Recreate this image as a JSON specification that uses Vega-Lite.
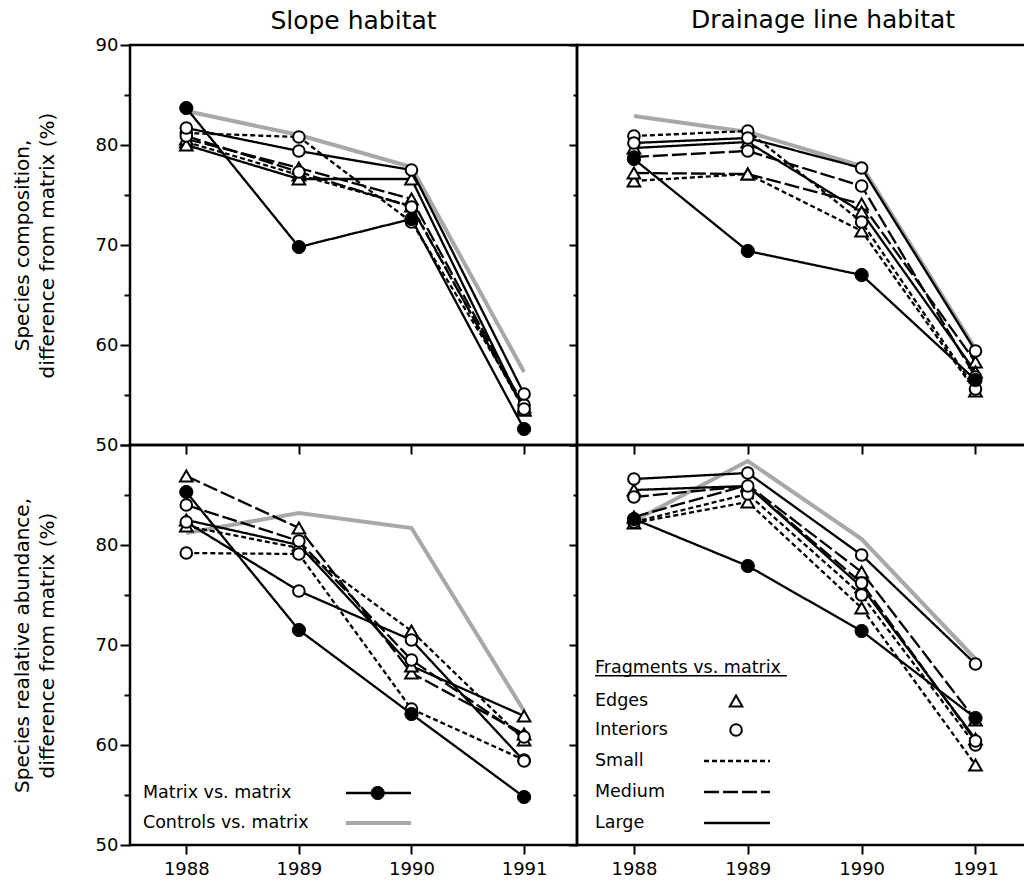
{
 "$schema": "https://vega.github.io/schema/vega-lite/v6.json",
 "padding": {"left": 10, "top": 6, "right": 0, "bottom": 0},
 "background": "white",
 "config": {
  "view": {"stroke": "black", "strokeWidth": 2.5},
  "axis": {"grid": false, "domain": false, "labelFont": "DejaVu Sans", "labelFontSize": 18, "labelColor": "black", "tickColor": "black", "tickWidth": 2, "titleFont": "DejaVu Sans", "titleFontSize": 20, "titleFontWeight": "normal", "titleColor": "black", "titleLineHeight": 25},
  "title": {"font": "DejaVu Sans", "fontSize": 25, "fontWeight": "normal", "color": "black", "frame": "group", "offset": 2}
 },
 "datasets": {
  "main": [
   {"measure":"composition","habitat":"Slope","series":"Matrix vs. matrix","type":"Matrix","size":"None","year":1988,"value":83.7},
   {"measure":"composition","habitat":"Slope","series":"Matrix vs. matrix","type":"Matrix","size":"None","year":1989,"value":69.8},
   {"measure":"composition","habitat":"Slope","series":"Matrix vs. matrix","type":"Matrix","size":"None","year":1990,"value":72.6},
   {"measure":"composition","habitat":"Slope","series":"Matrix vs. matrix","type":"Matrix","size":"None","year":1991,"value":51.6},
   {"measure":"composition","habitat":"Slope","series":"Controls vs. matrix","type":"Controls","size":"None","year":1988,"value":83.4},
   {"measure":"composition","habitat":"Slope","series":"Controls vs. matrix","type":"Controls","size":"None","year":1989,"value":81.0},
   {"measure":"composition","habitat":"Slope","series":"Controls vs. matrix","type":"Controls","size":"None","year":1990,"value":77.8},
   {"measure":"composition","habitat":"Slope","series":"Controls vs. matrix","type":"Controls","size":"None","year":1991,"value":57.3},
   {"measure":"composition","habitat":"Slope","series":"Edges Small","type":"Edges","size":"Small","year":1988,"value":80.3},
   {"measure":"composition","habitat":"Slope","series":"Edges Small","type":"Edges","size":"Small","year":1989,"value":77.0},
   {"measure":"composition","habitat":"Slope","series":"Edges Small","type":"Edges","size":"Small","year":1990,"value":73.9},
   {"measure":"composition","habitat":"Slope","series":"Edges Small","type":"Edges","size":"Small","year":1991,"value":53.5},
   {"measure":"composition","habitat":"Slope","series":"Edges Medium","type":"Edges","size":"Medium","year":1988,"value":80.6},
   {"measure":"composition","habitat":"Slope","series":"Edges Medium","type":"Edges","size":"Medium","year":1989,"value":77.7},
   {"measure":"composition","habitat":"Slope","series":"Edges Medium","type":"Edges","size":"Medium","year":1990,"value":74.6},
   {"measure":"composition","habitat":"Slope","series":"Edges Medium","type":"Edges","size":"Medium","year":1991,"value":53.8},
   {"measure":"composition","habitat":"Slope","series":"Edges Large","type":"Edges","size":"Large","year":1988,"value":80.0},
   {"measure":"composition","habitat":"Slope","series":"Edges Large","type":"Edges","size":"Large","year":1989,"value":76.6},
   {"measure":"composition","habitat":"Slope","series":"Edges Large","type":"Edges","size":"Large","year":1990,"value":76.6},
   {"measure":"composition","habitat":"Slope","series":"Edges Large","type":"Edges","size":"Large","year":1991,"value":53.5},
   {"measure":"composition","habitat":"Slope","series":"Interiors Small","type":"Interiors","size":"Small","year":1988,"value":81.2},
   {"measure":"composition","habitat":"Slope","series":"Interiors Small","type":"Interiors","size":"Small","year":1989,"value":80.8},
   {"measure":"composition","habitat":"Slope","series":"Interiors Small","type":"Interiors","size":"Small","year":1990,"value":72.3},
   {"measure":"composition","habitat":"Slope","series":"Interiors Small","type":"Interiors","size":"Small","year":1991,"value":54.0},
   {"measure":"composition","habitat":"Slope","series":"Interiors Medium","type":"Interiors","size":"Medium","year":1988,"value":80.9},
   {"measure":"composition","habitat":"Slope","series":"Interiors Medium","type":"Interiors","size":"Medium","year":1989,"value":77.3},
   {"measure":"composition","habitat":"Slope","series":"Interiors Medium","type":"Interiors","size":"Medium","year":1990,"value":73.8},
   {"measure":"composition","habitat":"Slope","series":"Interiors Medium","type":"Interiors","size":"Medium","year":1991,"value":53.6},
   {"measure":"composition","habitat":"Slope","series":"Interiors Large","type":"Interiors","size":"Large","year":1988,"value":81.7},
   {"measure":"composition","habitat":"Slope","series":"Interiors Large","type":"Interiors","size":"Large","year":1989,"value":79.4},
   {"measure":"composition","habitat":"Slope","series":"Interiors Large","type":"Interiors","size":"Large","year":1990,"value":77.5},
   {"measure":"composition","habitat":"Slope","series":"Interiors Large","type":"Interiors","size":"Large","year":1991,"value":55.1},

   {"measure":"composition","habitat":"Drainage line","series":"Matrix vs. matrix","type":"Matrix","size":"None","year":1988,"value":78.6},
   {"measure":"composition","habitat":"Drainage line","series":"Matrix vs. matrix","type":"Matrix","size":"None","year":1989,"value":69.4},
   {"measure":"composition","habitat":"Drainage line","series":"Matrix vs. matrix","type":"Matrix","size":"None","year":1990,"value":67.0},
   {"measure":"composition","habitat":"Drainage line","series":"Matrix vs. matrix","type":"Matrix","size":"None","year":1991,"value":56.5},
   {"measure":"composition","habitat":"Drainage line","series":"Controls vs. matrix","type":"Controls","size":"None","year":1988,"value":82.9},
   {"measure":"composition","habitat":"Drainage line","series":"Controls vs. matrix","type":"Controls","size":"None","year":1989,"value":81.3},
   {"measure":"composition","habitat":"Drainage line","series":"Controls vs. matrix","type":"Controls","size":"None","year":1990,"value":77.9},
   {"measure":"composition","habitat":"Drainage line","series":"Controls vs. matrix","type":"Controls","size":"None","year":1991,"value":59.6},
   {"measure":"composition","habitat":"Drainage line","series":"Edges Small","type":"Edges","size":"Small","year":1988,"value":76.4},
   {"measure":"composition","habitat":"Drainage line","series":"Edges Small","type":"Edges","size":"Small","year":1989,"value":77.1},
   {"measure":"composition","habitat":"Drainage line","series":"Edges Small","type":"Edges","size":"Small","year":1990,"value":71.4},
   {"measure":"composition","habitat":"Drainage line","series":"Edges Small","type":"Edges","size":"Small","year":1991,"value":55.4},
   {"measure":"composition","habitat":"Drainage line","series":"Edges Medium","type":"Edges","size":"Medium","year":1988,"value":77.2},
   {"measure":"composition","habitat":"Drainage line","series":"Edges Medium","type":"Edges","size":"Medium","year":1989,"value":77.1},
   {"measure":"composition","habitat":"Drainage line","series":"Edges Medium","type":"Edges","size":"Medium","year":1990,"value":74.1},
   {"measure":"composition","habitat":"Drainage line","series":"Edges Medium","type":"Edges","size":"Medium","year":1991,"value":58.3},
   {"measure":"composition","habitat":"Drainage line","series":"Edges Large","type":"Edges","size":"Large","year":1988,"value":79.7},
   {"measure":"composition","habitat":"Drainage line","series":"Edges Large","type":"Edges","size":"Large","year":1989,"value":80.3},
   {"measure":"composition","habitat":"Drainage line","series":"Edges Large","type":"Edges","size":"Large","year":1990,"value":73.3},
   {"measure":"composition","habitat":"Drainage line","series":"Edges Large","type":"Edges","size":"Large","year":1991,"value":57.3},
   {"measure":"composition","habitat":"Drainage line","series":"Interiors Small","type":"Interiors","size":"Small","year":1988,"value":80.9},
   {"measure":"composition","habitat":"Drainage line","series":"Interiors Small","type":"Interiors","size":"Small","year":1989,"value":81.4},
   {"measure":"composition","habitat":"Drainage line","series":"Interiors Small","type":"Interiors","size":"Small","year":1990,"value":72.3},
   {"measure":"composition","habitat":"Drainage line","series":"Interiors Small","type":"Interiors","size":"Small","year":1991,"value":55.6},
   {"measure":"composition","habitat":"Drainage line","series":"Interiors Medium","type":"Interiors","size":"Medium","year":1988,"value":78.8},
   {"measure":"composition","habitat":"Drainage line","series":"Interiors Medium","type":"Interiors","size":"Medium","year":1989,"value":79.4},
   {"measure":"composition","habitat":"Drainage line","series":"Interiors Medium","type":"Interiors","size":"Medium","year":1990,"value":75.9},
   {"measure":"composition","habitat":"Drainage line","series":"Interiors Medium","type":"Interiors","size":"Medium","year":1991,"value":56.8},
   {"measure":"composition","habitat":"Drainage line","series":"Interiors Large","type":"Interiors","size":"Large","year":1988,"value":80.2},
   {"measure":"composition","habitat":"Drainage line","series":"Interiors Large","type":"Interiors","size":"Large","year":1989,"value":80.7},
   {"measure":"composition","habitat":"Drainage line","series":"Interiors Large","type":"Interiors","size":"Large","year":1990,"value":77.7},
   {"measure":"composition","habitat":"Drainage line","series":"Interiors Large","type":"Interiors","size":"Large","year":1991,"value":59.4},

   {"measure":"abundance","habitat":"Slope","series":"Matrix vs. matrix","type":"Matrix","size":"None","year":1988,"value":85.3},
   {"measure":"abundance","habitat":"Slope","series":"Matrix vs. matrix","type":"Matrix","size":"None","year":1989,"value":71.5},
   {"measure":"abundance","habitat":"Slope","series":"Matrix vs. matrix","type":"Matrix","size":"None","year":1990,"value":63.1},
   {"measure":"abundance","habitat":"Slope","series":"Matrix vs. matrix","type":"Matrix","size":"None","year":1991,"value":54.8},
   {"measure":"abundance","habitat":"Slope","series":"Controls vs. matrix","type":"Controls","size":"None","year":1988,"value":81.2},
   {"measure":"abundance","habitat":"Slope","series":"Controls vs. matrix","type":"Controls","size":"None","year":1989,"value":83.2},
   {"measure":"abundance","habitat":"Slope","series":"Controls vs. matrix","type":"Controls","size":"None","year":1990,"value":81.7},
   {"measure":"abundance","habitat":"Slope","series":"Controls vs. matrix","type":"Controls","size":"None","year":1991,"value":63.4},
   {"measure":"abundance","habitat":"Slope","series":"Edges Small","type":"Edges","size":"Small","year":1988,"value":81.9},
   {"measure":"abundance","habitat":"Slope","series":"Edges Small","type":"Edges","size":"Small","year":1989,"value":79.7},
   {"measure":"abundance","habitat":"Slope","series":"Edges Small","type":"Edges","size":"Small","year":1990,"value":71.4},
   {"measure":"abundance","habitat":"Slope","series":"Edges Small","type":"Edges","size":"Small","year":1991,"value":60.5},
   {"measure":"abundance","habitat":"Slope","series":"Edges Medium","type":"Edges","size":"Medium","year":1988,"value":86.9},
   {"measure":"abundance","habitat":"Slope","series":"Edges Medium","type":"Edges","size":"Medium","year":1989,"value":81.7},
   {"measure":"abundance","habitat":"Slope","series":"Edges Medium","type":"Edges","size":"Medium","year":1990,"value":67.2},
   {"measure":"abundance","habitat":"Slope","series":"Edges Medium","type":"Edges","size":"Medium","year":1991,"value":61.1},
   {"measure":"abundance","habitat":"Slope","series":"Edges Large","type":"Edges","size":"Large","year":1988,"value":82.5},
   {"measure":"abundance","habitat":"Slope","series":"Edges Large","type":"Edges","size":"Large","year":1989,"value":80.0},
   {"measure":"abundance","habitat":"Slope","series":"Edges Large","type":"Edges","size":"Large","year":1990,"value":67.9},
   {"measure":"abundance","habitat":"Slope","series":"Edges Large","type":"Edges","size":"Large","year":1991,"value":62.9},
   {"measure":"abundance","habitat":"Slope","series":"Interiors Small","type":"Interiors","size":"Small","year":1988,"value":79.2},
   {"measure":"abundance","habitat":"Slope","series":"Interiors Small","type":"Interiors","size":"Small","year":1989,"value":79.1},
   {"measure":"abundance","habitat":"Slope","series":"Interiors Small","type":"Interiors","size":"Small","year":1990,"value":63.6},
   {"measure":"abundance","habitat":"Slope","series":"Interiors Small","type":"Interiors","size":"Small","year":1991,"value":58.5},
   {"measure":"abundance","habitat":"Slope","series":"Interiors Medium","type":"Interiors","size":"Medium","year":1988,"value":84.0},
   {"measure":"abundance","habitat":"Slope","series":"Interiors Medium","type":"Interiors","size":"Medium","year":1989,"value":80.4},
   {"measure":"abundance","habitat":"Slope","series":"Interiors Medium","type":"Interiors","size":"Medium","year":1990,"value":68.5},
   {"measure":"abundance","habitat":"Slope","series":"Interiors Medium","type":"Interiors","size":"Medium","year":1991,"value":60.8},
   {"measure":"abundance","habitat":"Slope","series":"Interiors Large","type":"Interiors","size":"Large","year":1988,"value":82.3},
   {"measure":"abundance","habitat":"Slope","series":"Interiors Large","type":"Interiors","size":"Large","year":1989,"value":75.4},
   {"measure":"abundance","habitat":"Slope","series":"Interiors Large","type":"Interiors","size":"Large","year":1990,"value":70.5},
   {"measure":"abundance","habitat":"Slope","series":"Interiors Large","type":"Interiors","size":"Large","year":1991,"value":58.4},

   {"measure":"abundance","habitat":"Drainage line","series":"Matrix vs. matrix","type":"Matrix","size":"None","year":1988,"value":82.6},
   {"measure":"abundance","habitat":"Drainage line","series":"Matrix vs. matrix","type":"Matrix","size":"None","year":1989,"value":77.9},
   {"measure":"abundance","habitat":"Drainage line","series":"Matrix vs. matrix","type":"Matrix","size":"None","year":1990,"value":71.4},
   {"measure":"abundance","habitat":"Drainage line","series":"Matrix vs. matrix","type":"Matrix","size":"None","year":1991,"value":62.7},
   {"measure":"abundance","habitat":"Drainage line","series":"Controls vs. matrix","type":"Controls","size":"None","year":1988,"value":82.4},
   {"measure":"abundance","habitat":"Drainage line","series":"Controls vs. matrix","type":"Controls","size":"None","year":1989,"value":88.4},
   {"measure":"abundance","habitat":"Drainage line","series":"Controls vs. matrix","type":"Controls","size":"None","year":1990,"value":80.6},
   {"measure":"abundance","habitat":"Drainage line","series":"Controls vs. matrix","type":"Controls","size":"None","year":1991,"value":68.6},
   {"measure":"abundance","habitat":"Drainage line","series":"Edges Small","type":"Edges","size":"Small","year":1988,"value":82.2},
   {"measure":"abundance","habitat":"Drainage line","series":"Edges Small","type":"Edges","size":"Small","year":1989,"value":84.3},
   {"measure":"abundance","habitat":"Drainage line","series":"Edges Small","type":"Edges","size":"Small","year":1990,"value":73.7},
   {"measure":"abundance","habitat":"Drainage line","series":"Edges Small","type":"Edges","size":"Small","year":1991,"value":58.0},
   {"measure":"abundance","habitat":"Drainage line","series":"Edges Medium","type":"Edges","size":"Medium","year":1988,"value":82.8},
   {"measure":"abundance","habitat":"Drainage line","series":"Edges Medium","type":"Edges","size":"Medium","year":1989,"value":86.0},
   {"measure":"abundance","habitat":"Drainage line","series":"Edges Medium","type":"Edges","size":"Medium","year":1990,"value":77.3},
   {"measure":"abundance","habitat":"Drainage line","series":"Edges Medium","type":"Edges","size":"Medium","year":1991,"value":62.5},
   {"measure":"abundance","habitat":"Drainage line","series":"Edges Large","type":"Edges","size":"Large","year":1988,"value":85.5},
   {"measure":"abundance","habitat":"Drainage line","series":"Edges Large","type":"Edges","size":"Large","year":1989,"value":85.9},
   {"measure":"abundance","habitat":"Drainage line","series":"Edges Large","type":"Edges","size":"Large","year":1990,"value":75.8},
   {"measure":"abundance","habitat":"Drainage line","series":"Edges Large","type":"Edges","size":"Large","year":1991,"value":60.6},
   {"measure":"abundance","habitat":"Drainage line","series":"Interiors Small","type":"Interiors","size":"Small","year":1988,"value":82.3},
   {"measure":"abundance","habitat":"Drainage line","series":"Interiors Small","type":"Interiors","size":"Small","year":1989,"value":85.1},
   {"measure":"abundance","habitat":"Drainage line","series":"Interiors Small","type":"Interiors","size":"Small","year":1990,"value":75.0},
   {"measure":"abundance","habitat":"Drainage line","series":"Interiors Small","type":"Interiors","size":"Small","year":1991,"value":60.0},
   {"measure":"abundance","habitat":"Drainage line","series":"Interiors Medium","type":"Interiors","size":"Medium","year":1988,"value":84.8},
   {"measure":"abundance","habitat":"Drainage line","series":"Interiors Medium","type":"Interiors","size":"Medium","year":1989,"value":85.9},
   {"measure":"abundance","habitat":"Drainage line","series":"Interiors Medium","type":"Interiors","size":"Medium","year":1990,"value":76.2},
   {"measure":"abundance","habitat":"Drainage line","series":"Interiors Medium","type":"Interiors","size":"Medium","year":1991,"value":60.4},
   {"measure":"abundance","habitat":"Drainage line","series":"Interiors Large","type":"Interiors","size":"Large","year":1988,"value":86.6},
   {"measure":"abundance","habitat":"Drainage line","series":"Interiors Large","type":"Interiors","size":"Large","year":1989,"value":87.2},
   {"measure":"abundance","habitat":"Drainage line","series":"Interiors Large","type":"Interiors","size":"Large","year":1990,"value":79.0},
   {"measure":"abundance","habitat":"Drainage line","series":"Interiors Large","type":"Interiors","size":"Large","year":1991,"value":68.1}
  ]
 },
 "data": {"name": "main"},
 "spacing": 0,
 "bounds": "flush",
 "columns": 2,
 "concat": [
    {
     "width": 447, "height": 400,
     "title": {"text": "Slope habitat"},
     "transform": [{"filter": "datum.measure === 'composition' && datum.habitat === 'Slope'"}],
     "encoding": {
      "x": {"field": "year", "type": "quantitative", "scale": {"domain": [1987.5, 1991.47], "nice": false, "zero": false}, "axis": {"values": [1988, 1989, 1990, 1991], "labels": false, "tickSize": 9, "title": null}},
      "y": {"field": "value", "type": "quantitative", "scale": {"domain": [50, 90], "nice": false, "zero": false}, "axis": {"values": [50, 55, 60, 65, 70, 75, 80, 85, 90], "labelExpr": "datum.value % 10 === 0 ? datum.label : ''", "tickSize": {"condition": {"test": "datum.value % 10 === 0", "value": 10}, "value": 6}, "labelPadding": 2, "title": ["Species composition,", "difference from matrix (%)"], "titlePadding": 38}}
     },
     "layer": [
      {"transform": [{"filter": "datum.type === 'Controls'"}], "mark": {"type": "line", "color": "#a8a8a8", "strokeWidth": 4}},
      {"transform": [{"filter": "datum.type !== 'Controls'"}], "mark": {"type": "line", "color": "black", "strokeWidth": 2.3}, "encoding": {"detail": {"field": "series"}, "strokeDash": {"field": "size", "type": "nominal", "scale": {"domain": ["Small", "Medium", "Large", "None"], "range": [[5, 3], [15, 4], [1, 0], [1, 0]]}, "legend": null}}},
      {"transform": [{"filter": "datum.type === 'Edges'"}], "mark": {"type": "point", "shape": "triangle-up", "size": 160, "filled": true, "fill": "white", "stroke": "black", "strokeWidth": 2, "opacity": 1}},
      {"transform": [{"filter": "datum.type === 'Interiors'"}], "mark": {"type": "point", "shape": "circle", "size": 135, "filled": true, "fill": "white", "stroke": "black", "strokeWidth": 2, "opacity": 1}},
      {"transform": [{"filter": "datum.type === 'Matrix'"}], "mark": {"type": "point", "shape": "circle", "size": 175, "filled": true, "fill": "black", "stroke": "black", "strokeWidth": 1, "opacity": 1}}
     ]
    },
    {
     "width": 452, "height": 400,
     "title": {"text": "Drainage line habitat", "dx": 20, "offset": 11},
     "transform": [{"filter": "datum.measure === 'composition' && datum.habitat === 'Drainage line'"}],
     "encoding": {
      "x": {"field": "year", "type": "quantitative", "scale": {"domain": [1987.5, 1991.47], "nice": false, "zero": false}, "axis": {"values": [1988, 1989, 1990, 1991], "labels": false, "tickSize": 9, "title": null}},
      "y": {"field": "value", "type": "quantitative", "scale": {"domain": [50, 90], "nice": false, "zero": false}, "axis": {"values": [50, 55, 60, 65, 70, 75, 80, 85, 90], "labels": false, "tickSize": {"condition": {"test": "datum.value % 10 === 0", "value": 8}, "value": 4}, "title": null}}
     },
     "layer": [
      {"transform": [{"filter": "datum.type === 'Controls'"}], "mark": {"type": "line", "color": "#a8a8a8", "strokeWidth": 4}},
      {"transform": [{"filter": "datum.type !== 'Controls'"}], "mark": {"type": "line", "color": "black", "strokeWidth": 2.3}, "encoding": {"detail": {"field": "series"}, "strokeDash": {"field": "size", "type": "nominal", "scale": {"domain": ["Small", "Medium", "Large", "None"], "range": [[5, 3], [15, 4], [1, 0], [1, 0]]}, "legend": null}}},
      {"transform": [{"filter": "datum.type === 'Edges'"}], "mark": {"type": "point", "shape": "triangle-up", "size": 160, "filled": true, "fill": "white", "stroke": "black", "strokeWidth": 2, "opacity": 1}},
      {"transform": [{"filter": "datum.type === 'Interiors'"}], "mark": {"type": "point", "shape": "circle", "size": 135, "filled": true, "fill": "white", "stroke": "black", "strokeWidth": 2, "opacity": 1}},
      {"transform": [{"filter": "datum.type === 'Matrix'"}], "mark": {"type": "point", "shape": "circle", "size": 175, "filled": true, "fill": "black", "stroke": "black", "strokeWidth": 1, "opacity": 1}}
     ]
    },
    {
     "width": 447, "height": 400,
     "transform": [{"filter": "datum.measure === 'abundance' && datum.habitat === 'Slope'"}],
     "encoding": {
      "x": {"field": "year", "type": "quantitative", "scale": {"domain": [1987.5, 1991.47], "nice": false, "zero": false}, "axis": {"values": [1988, 1989, 1990, 1991], "format": "d", "tickSize": 9, "labelPadding": 6, "labelFontSize": 18, "title": null}},
      "y": {"field": "value", "type": "quantitative", "scale": {"domain": [50, 90], "nice": false, "zero": false}, "axis": {"values": [50, 55, 60, 65, 70, 75, 80, 85, 90], "labelExpr": "datum.value % 10 === 0 && datum.value < 90 ? datum.label : ''", "tickSize": {"condition": {"test": "datum.value % 10 === 0", "value": 10}, "value": 6}, "labelPadding": 2, "title": ["Species realative abundance,", "difference from matrix (%)"], "titlePadding": 38}}
     },
     "layer": [
      {"transform": [{"filter": "datum.type === 'Controls'"}], "mark": {"type": "line", "color": "#a8a8a8", "strokeWidth": 4}},
      {"transform": [{"filter": "datum.type !== 'Controls'"}], "mark": {"type": "line", "color": "black", "strokeWidth": 2.3}, "encoding": {"detail": {"field": "series"}, "strokeDash": {"field": "size", "type": "nominal", "scale": {"domain": ["Small", "Medium", "Large", "None"], "range": [[5, 3], [15, 4], [1, 0], [1, 0]]}, "legend": null}}},
      {"transform": [{"filter": "datum.type === 'Edges'"}], "mark": {"type": "point", "shape": "triangle-up", "size": 160, "filled": true, "fill": "white", "stroke": "black", "strokeWidth": 2, "opacity": 1}},
      {"transform": [{"filter": "datum.type === 'Interiors'"}], "mark": {"type": "point", "shape": "circle", "size": 135, "filled": true, "fill": "white", "stroke": "black", "strokeWidth": 2, "opacity": 1}},
      {"transform": [{"filter": "datum.type === 'Matrix'"}], "mark": {"type": "point", "shape": "circle", "size": 175, "filled": true, "fill": "black", "stroke": "black", "strokeWidth": 1, "opacity": 1}},
      {"data": {"values": [{"year": 1987.615, "value": 55.2, "label": "Matrix vs. matrix"}, {"year": 1987.615, "value": 52.2, "label": "Controls vs. matrix"}]}, "mark": {"type": "text", "align": "left", "baseline": "middle", "font": "DejaVu Sans", "fontSize": 17.5, "color": "black"}, "encoding": {"text": {"field": "label"}}},
      {"data": {"values": [{"year": 1989.418, "year2": 1989.996, "value": 52.2}]}, "mark": {"type": "rule", "color": "#a8a8a8", "strokeWidth": 4}, "encoding": {"x2": {"field": "year2"}}},
      {"data": {"values": [{"year": 1989.418, "year2": 1989.996, "value": 55.2}]}, "mark": {"type": "rule", "color": "black", "strokeWidth": 2.3}, "encoding": {"x2": {"field": "year2"}}},
      {"data": {"values": [{"year": 1989.70, "value": 55.2}]}, "mark": {"type": "point", "shape": "circle", "size": 175, "filled": true, "fill": "black", "stroke": "black", "strokeWidth": 1, "opacity": 1}}
     ]
    },
    {
     "width": 452, "height": 400,
     "transform": [{"filter": "datum.measure === 'abundance' && datum.habitat === 'Drainage line'"}],
     "encoding": {
      "x": {"field": "year", "type": "quantitative", "scale": {"domain": [1987.5, 1991.47], "nice": false, "zero": false}, "axis": {"values": [1988, 1989, 1990, 1991], "format": "d", "tickSize": 9, "labelPadding": 6, "labelFontSize": 18, "title": null}},
      "y": {"field": "value", "type": "quantitative", "scale": {"domain": [50, 90], "nice": false, "zero": false}, "axis": {"values": [50, 55, 60, 65, 70, 75, 80, 85, 90], "labels": false, "tickSize": {"condition": {"test": "datum.value % 10 === 0", "value": 8}, "value": 4}, "title": null}}
     },
     "layer": [
      {"transform": [{"filter": "datum.type === 'Controls'"}], "mark": {"type": "line", "color": "#a8a8a8", "strokeWidth": 4}},
      {"transform": [{"filter": "datum.type !== 'Controls'"}], "mark": {"type": "line", "color": "black", "strokeWidth": 2.3}, "encoding": {"detail": {"field": "series"}, "strokeDash": {"field": "size", "type": "nominal", "scale": {"domain": ["Small", "Medium", "Large", "None"], "range": [[5, 3], [15, 4], [1, 0], [1, 0]]}, "legend": null}}},
      {"transform": [{"filter": "datum.type === 'Edges'"}], "mark": {"type": "point", "shape": "triangle-up", "size": 160, "filled": true, "fill": "white", "stroke": "black", "strokeWidth": 2, "opacity": 1}},
      {"transform": [{"filter": "datum.type === 'Interiors'"}], "mark": {"type": "point", "shape": "circle", "size": 135, "filled": true, "fill": "white", "stroke": "black", "strokeWidth": 2, "opacity": 1}},
      {"transform": [{"filter": "datum.type === 'Matrix'"}], "mark": {"type": "point", "shape": "circle", "size": 175, "filled": true, "fill": "black", "stroke": "black", "strokeWidth": 1, "opacity": 1}},
      {"data": {"values": [{"year": 1987.658, "value": 67.7, "label": "Fragments vs. matrix"}, {"year": 1987.658, "value": 64.4, "label": "Edges"}, {"year": 1987.658, "value": 61.5, "label": "Interiors"}, {"year": 1987.658, "value": 58.4, "label": "Small"}, {"year": 1987.658, "value": 55.3, "label": "Medium"}, {"year": 1987.658, "value": 52.2, "label": "Large"}]}, "mark": {"type": "text", "align": "left", "baseline": "middle", "font": "DejaVu Sans", "fontSize": 17.5, "color": "black"}, "encoding": {"text": {"field": "label"}}},
      {"data": {"values": [{"year": 1987.658, "year2": 1989.344, "value": 66.93}]}, "mark": {"type": "rule", "color": "black", "strokeWidth": 1.5}, "encoding": {"x2": {"field": "year2"}}},
      {"data": {"values": [{"year": 1988.616, "year2": 1989.195, "value": 58.4, "size": "Small"}, {"year": 1988.616, "year2": 1989.195, "value": 55.3, "size": "Medium"}, {"year": 1988.616, "year2": 1989.195, "value": 52.2, "size": "Large"}]}, "mark": {"type": "rule", "color": "black", "strokeWidth": 2.3}, "encoding": {"x2": {"field": "year2"}, "strokeDash": {"field": "size", "type": "nominal", "scale": {"domain": ["Small", "Medium", "Large", "None"], "range": [[5, 3], [15, 4], [1, 0], [1, 0]]}, "legend": null}}},
      {"data": {"values": [{"year": 1988.897, "value": 64.4}]}, "mark": {"type": "point", "shape": "triangle-up", "size": 160, "filled": true, "fill": "white", "stroke": "black", "strokeWidth": 2, "opacity": 1}},
      {"data": {"values": [{"year": 1988.897, "value": 61.5}]}, "mark": {"type": "point", "shape": "circle", "size": 135, "filled": true, "fill": "white", "stroke": "black", "strokeWidth": 2, "opacity": 1}}
     ]
    }
 ]
}
